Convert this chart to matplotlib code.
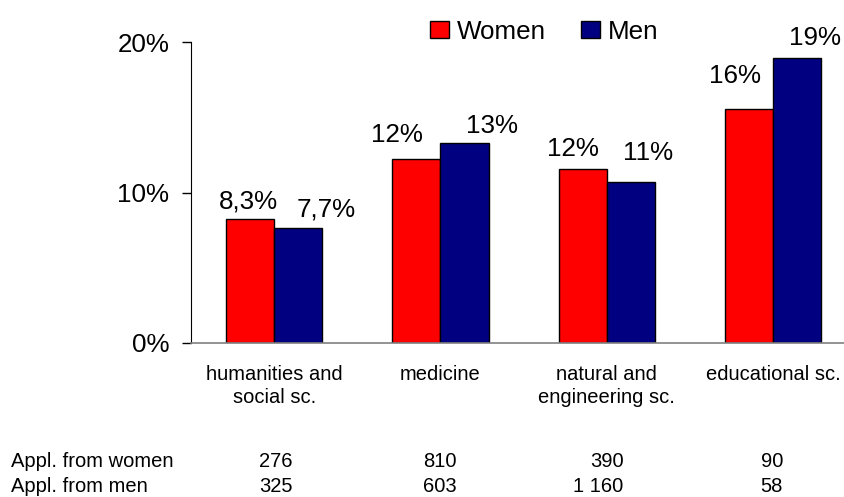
import matplotlib
matplotlib.use("Agg")
import matplotlib.pyplot as plt
import matplotlib.transforms as mtransforms
import numpy as np
from matplotlib.ticker import FuncFormatter

plt.rcParams['font.family'] = ['Liberation Sans', 'DejaVu Sans']

categories = ["humanities and\nsocial sc.", "medicine", "natural and\nengineering sc.", "educational sc."]
women = [8.28, 12.23, 11.55, 15.56]
men = [7.68, 13.3, 10.74, 18.96]
appl_women = ["276", "810", "390", "90"]
appl_men = ["325", "603", "1 160", "58"]
row_labels = ["Appl. from women", "Appl. from men"]

# label offsets (points) as placed in the reference
women_dx = [-1.4, -13.7, -7.2, -10]
women_dy = [7.2, 12.2, 9.4, 18.7]
men_dx = [20, 20, 12.6, 12.6]
men_dy = [7.9, 7.2, 15.8, 9.4]
table_right = [0.11, 0.10, 0.10, 0.06]
row_baselines = [467, 491.5]


def fmt(v):
    if v < 10:
        return f"{v:.1f}".replace('.', ',') + '%'
    return f"{round(v):.0f}%"


fig = plt.figure(figsize=(8.45, 4.97), dpi=100)
ax = fig.add_axes([191 / 845, 0.310, 4 * 166.3 / 845, 0.6046])

x = np.arange(len(categories))
w = 0.29
bw = ax.bar(x - w / 2, women, w, color='#FF0000', edgecolor='black', linewidth=1.0, label='Women')
bm = ax.bar(x + w / 2, men, w, color='#000080', edgecolor='black', linewidth=1.0, label='Men')

for i, (b, v) in enumerate(zip(bw, women)):
    ax.annotate(fmt(v), (b.get_x() + b.get_width() / 2, v), xytext=(women_dx[i], women_dy[i]),
                textcoords='offset points', ha='center', va='baseline', fontsize=18.7)
for i, (b, v) in enumerate(zip(bm, men)):
    ax.annotate(fmt(v), (b.get_x() + b.get_width() / 2, v), xytext=(men_dx[i], men_dy[i]),
                textcoords='offset points', ha='center', va='baseline', fontsize=18.7)

ax.set_xlim(-0.5, 3.5)
ax.set_ylim(0, 20)
ax.set_yticks([0, 10, 20])
ax.yaxis.set_major_formatter(FuncFormatter(lambda v, p: f"{v:.0f}%"))
ax.tick_params(axis='y', length=6.5, width=1, direction='out', pad=9, labelsize=18.7)
ax.set_xticks(x)
ax.set_xticklabels(categories, fontsize=14.5, linespacing=1.25)
ax.tick_params(axis='x', length=0, pad=16)

ax.spines['top'].set_visible(False)
ax.spines['right'].set_visible(False)
ax.spines['left'].set_color('black')
ax.spines['bottom'].set_color('#808080')
ax.spines['bottom'].set_linewidth(1.2)

fig.legend(handles=[bw, bm], labels=['Women', 'Men'], loc='center left',
           bbox_to_anchor=(430 / 845, 1 - 31.7 / 497), bbox_transform=fig.transFigure,
           ncol=2, frameon=False, fontsize=18.7, borderpad=0, borderaxespad=0,
           handlelength=0.72, handleheight=0.64, handletextpad=0.32, columnspacing=1.34)

# application counts table
blend = mtransforms.blended_transform_factory(ax.transData, fig.transFigure)
for txt, yb in zip(row_labels, row_baselines):
    fig.text(11 / 845, 1 - yb / 497, txt, ha='left', va='baseline', fontsize=14.5)
for i in range(len(categories)):
    ax.text(i + table_right[i], 1 - row_baselines[0] / 497, appl_women[i], transform=blend,
            ha='right', va='baseline', fontsize=14.5)
    ax.text(i + table_right[i], 1 - row_baselines[1] / 497, appl_men[i], transform=blend,
            ha='right', va='baseline', fontsize=14.5)

fig.savefig("out.png", dpi=100)
